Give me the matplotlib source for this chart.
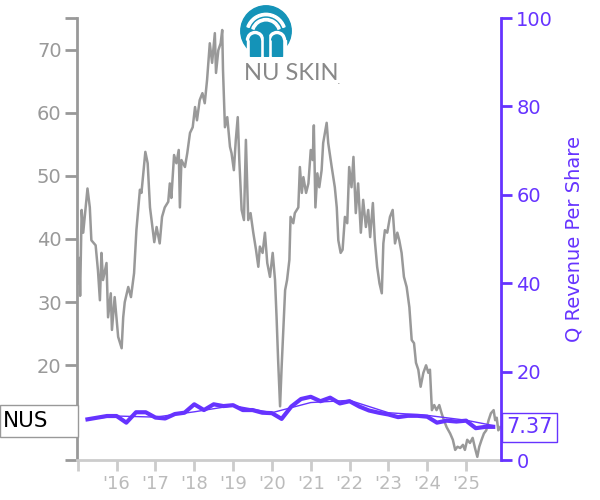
import numpy as np
import matplotlib
matplotlib.use("Agg")
import matplotlib.pyplot as plt
from matplotlib.patches import Circle, Wedge, Rectangle

# NUS share price (decimal year, price in $)
price_dates = [2015.00, 2015.04, 2015.06, 2015.10, 2015.14, 2015.25, 2015.31, 2015.35, 2015.46, 2015.52,
               2015.57, 2015.61, 2015.65, 2015.74, 2015.78, 2015.85, 2015.88, 2015.95, 2016.04, 2016.13,
               2016.17, 2016.21, 2016.30, 2016.37, 2016.45, 2016.51, 2016.60, 2016.64, 2016.74, 2016.80,
               2016.86, 2016.91, 2016.97, 2017.03, 2017.11, 2017.17, 2017.24, 2017.33, 2017.37, 2017.41,
               2017.48, 2017.54, 2017.60, 2017.63, 2017.67, 2017.76, 2017.82, 2017.89, 2017.96, 2018.02,
               2018.07, 2018.14, 2018.21, 2018.27, 2018.33, 2018.40, 2018.46, 2018.53, 2018.56, 2018.62,
               2018.68, 2018.72, 2018.74, 2018.79, 2018.85, 2018.92, 2018.96, 2019.02, 2019.07, 2019.12,
               2019.16, 2019.22, 2019.28, 2019.33, 2019.39, 2019.45, 2019.52, 2019.59, 2019.65, 2019.69,
               2019.76, 2019.82, 2019.88, 2019.95, 2020.02, 2020.08, 2020.12, 2020.16, 2020.21, 2020.25,
               2020.29, 2020.34, 2020.39, 2020.45, 2020.48, 2020.55, 2020.59, 2020.68, 2020.72, 2020.77,
               2020.81, 2020.88, 2020.94, 2021.00, 2021.05, 2021.08, 2021.12, 2021.17, 2021.22, 2021.28,
               2021.32, 2021.41, 2021.45, 2021.54, 2021.62, 2021.67, 2021.71, 2021.77, 2021.82, 2021.88,
               2021.94, 2021.99, 2022.05, 2022.10, 2022.16, 2022.22, 2022.29, 2022.35, 2022.42, 2022.48,
               2022.53, 2022.60, 2022.65, 2022.71, 2022.77, 2022.83, 2022.87, 2022.91, 2022.97, 2023.04,
               2023.11, 2023.17, 2023.23, 2023.28, 2023.34, 2023.40, 2023.47, 2023.54, 2023.60, 2023.66,
               2023.71, 2023.77, 2023.83, 2023.90, 2023.97, 2024.03, 2024.07, 2024.12, 2024.18, 2024.24,
               2024.31, 2024.37, 2024.43, 2024.50, 2024.59, 2024.66, 2024.72, 2024.78, 2024.85, 2024.92,
               2024.97, 2025.03, 2025.10, 2025.17, 2025.23, 2025.29, 2025.34, 2025.40, 2025.46, 2025.52,
               2025.58, 2025.64, 2025.71, 2025.75, 2025.79, 2025.83, 2025.88]
price = [33, 37, 31, 44.6, 41, 48, 45, 39.8, 39, 35,
         30.3, 37.8, 33.5, 36.2, 27.6, 31.4, 25.6, 30.8, 24.5, 22.7,
         27.6, 30, 32.4, 30.8, 34.6, 41.4, 47.8, 47.3, 53.8, 52,
         45, 42.5, 39.5, 41.9, 39.3, 43.5, 45, 45.9, 48.8, 46.5,
         53.3, 52, 54.1, 45, 52.5, 51.4, 53.6, 56.8, 57.7, 60.9,
         58.8, 62, 63.1, 61.5, 65.2, 71, 67.9, 72.6, 66.3, 69.9,
         71, 73.1, 66.8, 57.7, 59.3, 54.6, 53.6, 50.9, 55.7, 59.3,
         52.5, 44.6, 43, 55.7, 43, 44.1, 41, 38.3, 35.6, 38.8,
         37.8, 41, 36.2, 34, 37.8, 33.5, 27.6, 20.8, 13.5, 19.7,
         25.1, 31.9, 33.5, 36.7, 43.5, 42.5, 44.1, 45, 51.4, 47.3,
         49.8, 47.3, 48.8, 54.1, 52.5, 58, 45, 50.4, 48.2, 50.9,
         55.2, 58.4, 55.2, 51.4, 48.2, 45, 39.8, 37.8, 38.3, 43.5,
         42.5, 51.4, 48.2, 53, 44.1, 48.8, 41, 46.2, 41.9, 44.6,
         40.3, 45.7, 39.8, 35.6, 33, 31.4, 39.3, 41.4, 41, 43.5,
         44.6, 39.3, 41, 39.8, 37.8, 34, 32.4, 29.2, 24, 23.5,
         20.4, 19.3, 16.6, 18.8, 20.0, 18.8, 19.3, 12.9, 13.7, 12.9,
         13.7, 12.4, 11.3, 10.2, 9.2, 8.2, 6.6, 7.1, 6.9, 7.4,
         6.6, 8.2, 7.7, 8.5, 6.9, 5.5, 7.1, 8.2, 9.2, 9.7,
         11.3, 12.4, 12.9, 11.3, 11.7, 9.7, 10.2]

# quarterly revenue per share
rev_dates = [2015.25, 2015.75, 2016.0, 2016.25, 2016.5, 2016.75, 2017.0, 2017.25, 2017.5, 2017.75,
             2018.0, 2018.25, 2018.5, 2018.75, 2019.0, 2019.25, 2019.5, 2019.75, 2020.0, 2020.25,
             2020.5, 2020.75, 2021.0, 2021.25, 2021.5, 2021.75, 2022.0, 2022.25, 2022.5, 2022.75,
             2023.0, 2023.25, 2023.5, 2023.75, 2024.0, 2024.25, 2024.5, 2024.75, 2025.0, 2025.25,
             2025.5, 2025.7]
rev = [9.2, 9.95, 9.95, 8.45, 10.8, 10.8, 9.6, 9.4, 10.4, 10.7,
       12.6, 11.3, 12.6, 12.2, 12.4, 11.3, 11.3, 10.7, 10.6, 9.3,
       12.1, 13.8, 14.3, 13.3, 14.1, 12.8, 13.3, 12.1, 11.2, 10.7,
       10.3, 9.7, 10.0, 10.0, 9.8, 8.45, 8.9, 8.7, 8.9, 7.2,
       7.5, 7.5]

# annual trend line
trend_dates = [2015.25, 2016.0, 2017.0, 2018.0, 2019.0, 2020.0, 2021.0, 2022.0, 2023.0, 2024.0, 2025.0, 2025.7]
trend = [9.2, 9.95, 9.7, 10.9, 12.3, 10.7, 13.0, 13.5, 10.7, 10.1, 9.0, 7.8]

years = list(range(2015, 2026))
year_labels = [''] + ["'%02d" % (y % 100) for y in years[1:]]

gray = '#999999'
light = '#cccccc'
purple = '#6633ff'

fig = plt.figure(figsize=(6, 5), dpi=100)
ax = fig.add_axes([77 / 600, 40 / 500, 424 / 600, 442 / 500])
ax2 = ax.twinx()

ax.plot(price_dates, price, color=gray, lw=1.8)
ax2.plot(trend_dates, trend, color=purple, lw=1)
ax2.plot(rev_dates, rev, color=purple, lw=3)

ax.set_xlim(2014.98, 2025.9)
ax.set_ylim(5, 75)
ax2.set_ylim(0, 100)

for s in ['top', 'right']:
    ax.spines[s].set_visible(False)
for s in ['top', 'left', 'bottom']:
    ax2.spines[s].set_visible(False)
ax.spines['left'].set_color(gray)
ax.spines['left'].set_linewidth(2)
ax.spines['bottom'].set_color(light)
ax.spines['bottom'].set_linewidth(2)
ax2.spines['right'].set_color(purple)
ax2.spines['right'].set_linewidth(2)

ax.set_yticks([5, 10, 20, 30, 40, 50, 60, 70, 75])
ax.set_yticklabels(['', '', '20', '30', '40', '50', '60', '70', ''])
ax.tick_params(axis='y', colors=gray, labelsize=14, length=9, width=2, pad=2)
ax.set_xticks(years)
ax.set_xticklabels(year_labels)
ax.tick_params(axis='x', colors=light, labelcolor='#bbbbbb', labelsize=13, length=8, width=2, pad=3)

ax2.set_yticks([0, 20, 40, 60, 80, 100])
ax2.tick_params(axis='y', colors=purple, labelsize=14, length=8, width=2, pad=3)
ax2.set_ylabel('Q Revenue Per Share', color=purple, fontsize=14, labelpad=8)

# ticker box on the left
fig.patches.append(Rectangle((0, 1 - 437 / 500), 78 / 600, 32 / 500, transform=fig.transFigure,
                             fc='white', ec=gray, lw=1, zorder=4))
fig.text(3 / 600, 1 - 421 / 500, 'NUS', fontsize=15.5, color='black', va='center', ha='left', zorder=5)

# last value box
ax2.text(1.012, 7.37, '7.37', transform=ax2.get_yaxis_transform(), fontsize=15, color=purple,
         va='center', ha='left', bbox=dict(boxstyle='square,pad=0.2', fc='white', ec=purple, lw=1),
         zorder=10)

# logo
lax = fig.add_axes([240 / 600, 1 - 57 / 500, 52 / 600, 52 / 500])
lax.set_xlim(-1, 1)
lax.set_ylim(-1, 1)
lax.set_aspect('equal')
lax.axis('off')
teal = '#1493b8'
lax.add_patch(Circle((0, 0), 0.97, color=teal))
for r in [0.78, 0.58]:
    lax.add_patch(Wedge((0, -0.1), r, 20, 160, width=0.09, color='white'))
lax.add_patch(Wedge((-0.42, -0.35), 0.33, 0, 180, color='white'))
lax.add_patch(Wedge((0.42, -0.35), 0.33, 0, 180, color='white'))
lax.add_patch(Rectangle((-0.75, -0.95), 0.66, 0.6, color='white'))
lax.add_patch(Rectangle((0.09, -0.95), 0.66, 0.6, color='white'))
lax.add_patch(Rectangle((-0.09, -0.95), 0.18, 1.0, color=teal))
lax.add_patch(Wedge((-0.42, -0.35), 0.2, 0, 180, color=teal))
lax.add_patch(Wedge((0.42, -0.35), 0.2, 0, 180, color=teal))
lax.add_patch(Rectangle((-0.62, -0.95), 0.4, 0.6, color=teal))
lax.add_patch(Rectangle((0.22, -0.95), 0.4, 0.6, color=teal))
fig.text(244 / 600, 1 - 73 / 500, 'NU SKIN', fontsize=17, color='#888888', va='center', ha='left',
         family=['Lato', 'DejaVu Sans'])
fig.text(337 / 600, 1 - 81 / 500, '.', fontsize=8, color='#888888', va='center', ha='left')

fig.savefig('out.png', dpi=100)
